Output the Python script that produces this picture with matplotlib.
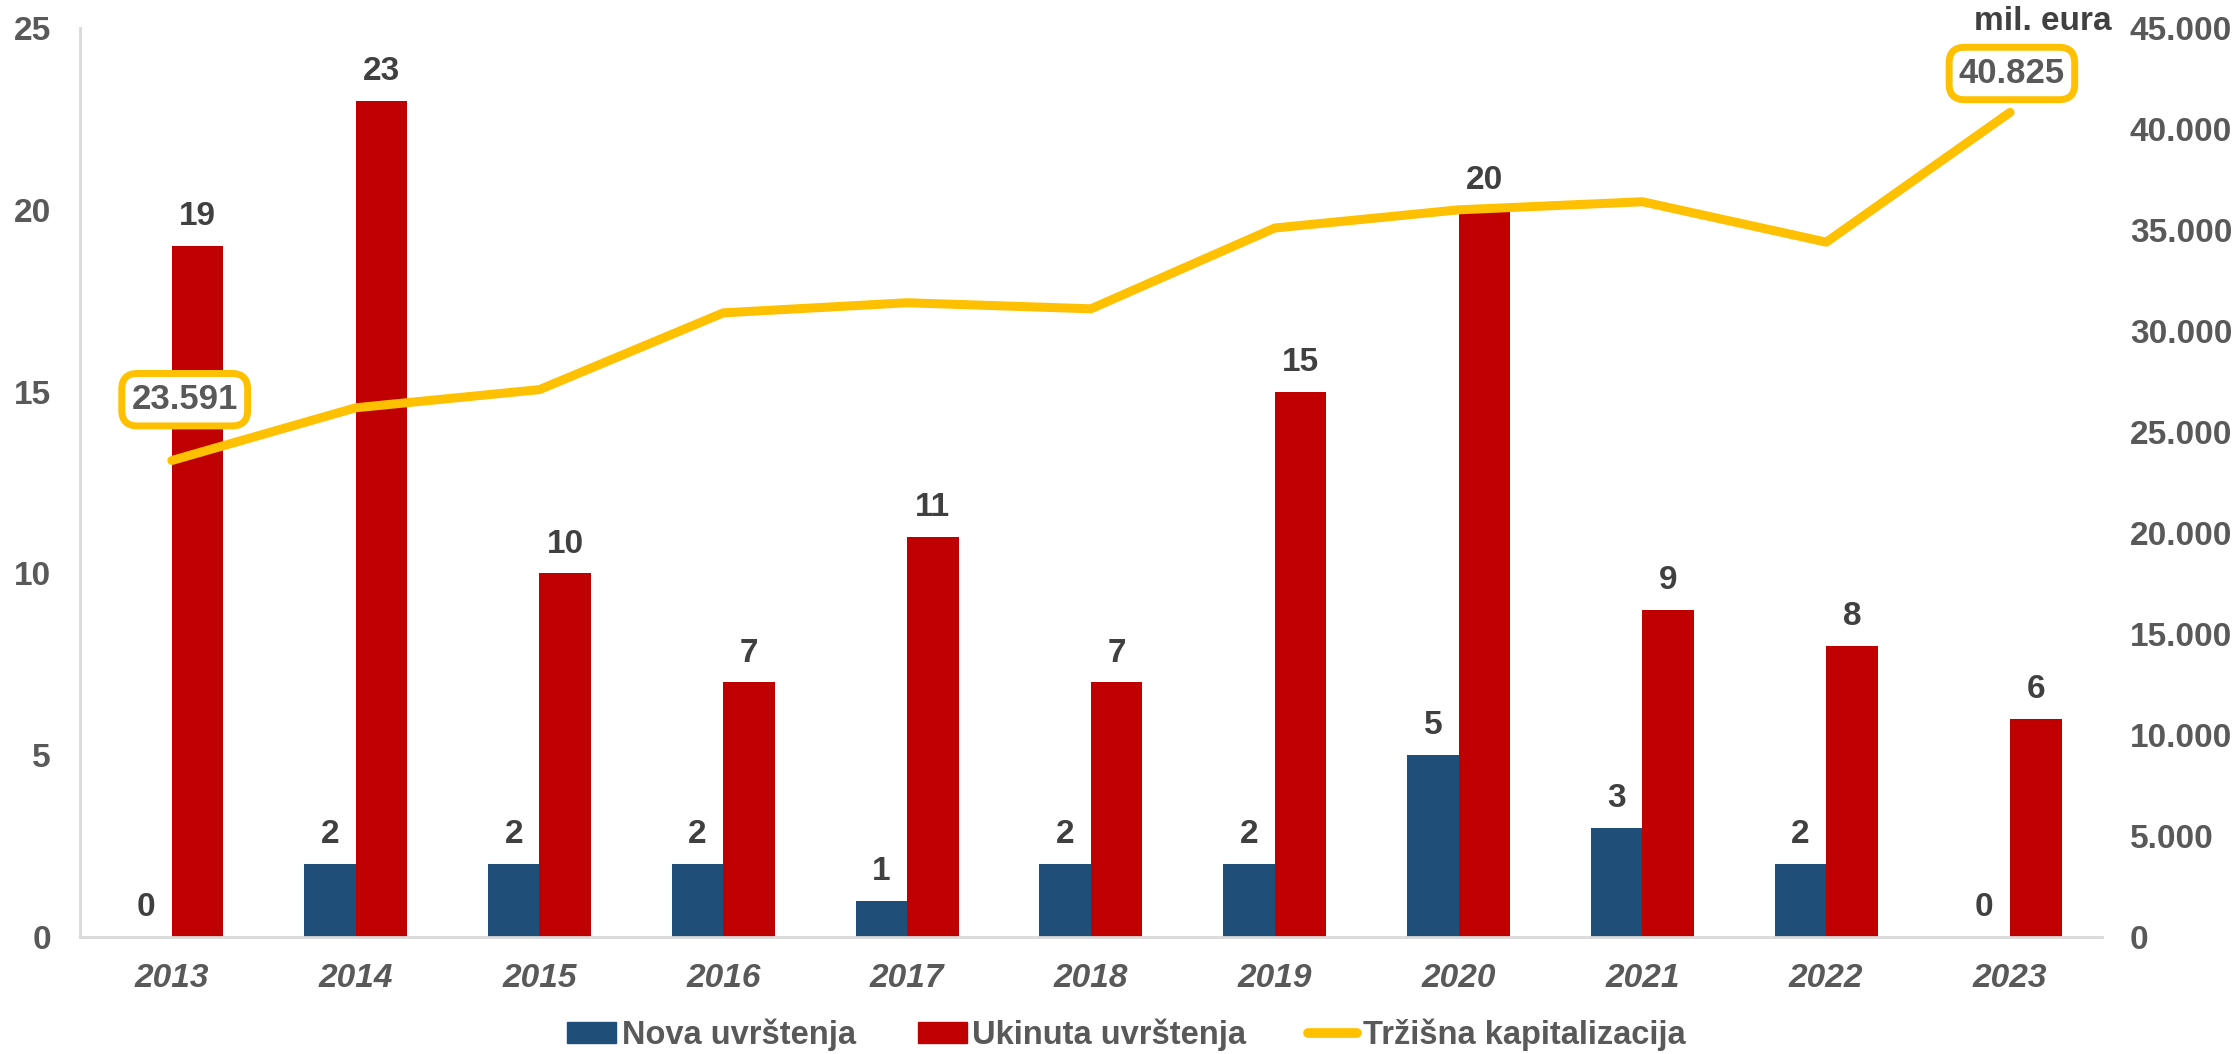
import numpy as np
import matplotlib.pyplot as plt
import matplotlib.transforms as mtransforms
from matplotlib.patches import Patch
from matplotlib.lines import Line2D
from matplotlib.ticker import FuncFormatter

plt.rcParams['font.family'] = ['Liberation Sans', 'DejaVu Sans']

years = ['2013', '2014', '2015', '2016', '2017', '2018', '2019', '2020', '2021', '2022', '2023']
nova = [0, 2, 2, 2, 1, 2, 2, 5, 3, 2, 0]
ukinuta = [19, 23, 10, 7, 11, 7, 15, 20, 9, 8, 6]
kapital = [23591, 26200, 27100, 30900, 31400, 31100, 35100, 36000, 36400, 34400, 40825]

blue = '#1F4E79'
red = '#C00000'
yellow = '#FFC000'
grey = '#595959'
dark = '#404040'

fig = plt.figure(figsize=(22.39, 10.54), dpi=100)
ax = fig.add_axes([0.0357, 0.111, 0.9031, 0.8624])
ax2 = ax.twinx()

x = np.arange(len(years))
w = 0.28
b1 = ax.bar(x - w / 2, nova, w, color=blue)
b2 = ax.bar(x + w / 2, ukinuta, w, color=red)

for rect, v in zip(list(b1) + list(b2), nova + ukinuta):
    ax.annotate(str(v), (rect.get_x() + rect.get_width() / 2, v),
                xytext=(0, 10), textcoords='offset points',
                ha='center', va='bottom', fontsize=24, fontweight='bold', color=dark)

ax.set_xlim(-0.5, len(years) - 0.5)
ax.set_ylim(0, 25)
ax.set_yticks(range(0, 26, 5))
ax.set_xticks(x)
ax.set_xticklabels(years, fontsize=24, fontweight='bold', fontstyle='italic', color=grey)
ax.tick_params(axis='y', length=0, pad=21, labelsize=24, labelcolor=grey)
ax.tick_params(axis='x', length=0, pad=19)
for lab in ax.get_yticklabels():
    lab.set_fontweight('bold')
for s in ['top', 'right']:
    ax.spines[s].set_visible(False)
for s in ['left', 'bottom']:
    ax.spines[s].set_color('#D9D9D9')
    ax.spines[s].set_linewidth(2)

ax2.plot(x, kapital, color=yellow, lw=6.5, solid_capstyle='round')
ax2.set_ylim(0, 45000)
ax2.set_yticks(range(0, 45001, 5000))
ax2.yaxis.set_major_formatter(FuncFormatter(lambda v, p: f'{int(v):,}'.replace(',', '.')))
ax2.tick_params(axis='y', length=0, pad=20, labelsize=24, labelcolor=grey)
for lab in ax2.get_yticklabels():
    lab.set_fontweight('bold')
for s in ax2.spines.values():
    s.set_visible(False)

box = dict(boxstyle='round,pad=0.28,rounding_size=0.45', fc='white', ec=yellow, lw=5)
ax2.text(x[0] + 0.07, 26600, f'{kapital[0]:,}'.replace(',', '.'), ha='center', va='center',
         fontsize=25, fontweight='bold', color=grey, bbox=box)
ax2.text(x[-1] + 0.01, 42750, f'{kapital[-1]:,}'.replace(',', '.'), ha='center', va='center',
         fontsize=25, fontweight='bold', color=grey, bbox=box)
trans = mtransforms.blended_transform_factory(ax2.transAxes, ax2.transData)
ax2.text(1.005, 45300, 'mil. eura', transform=trans, ha='right', va='center',
         fontsize=24, fontweight='bold', color=dark)

handles = [Patch(color=blue), Patch(color=red),
           Line2D([], [], color=yellow, lw=7, solid_capstyle='round')]
leg = fig.legend(handles, ['Nova uvrštenja', 'Ukinuta uvrštenja', 'Tržišna kapitalizacija'],
                 loc='center', bbox_to_anchor=(0.503, 0.018), ncol=3, frameon=False,
                 handlelength=1.5, handleheight=0.6, handletextpad=0.17, columnspacing=1.9,
                 prop={'size': 23.5, 'weight': 'bold'})
for t in leg.get_texts():
    t.set_color(grey)

fig.savefig('out.png', dpi=100)
